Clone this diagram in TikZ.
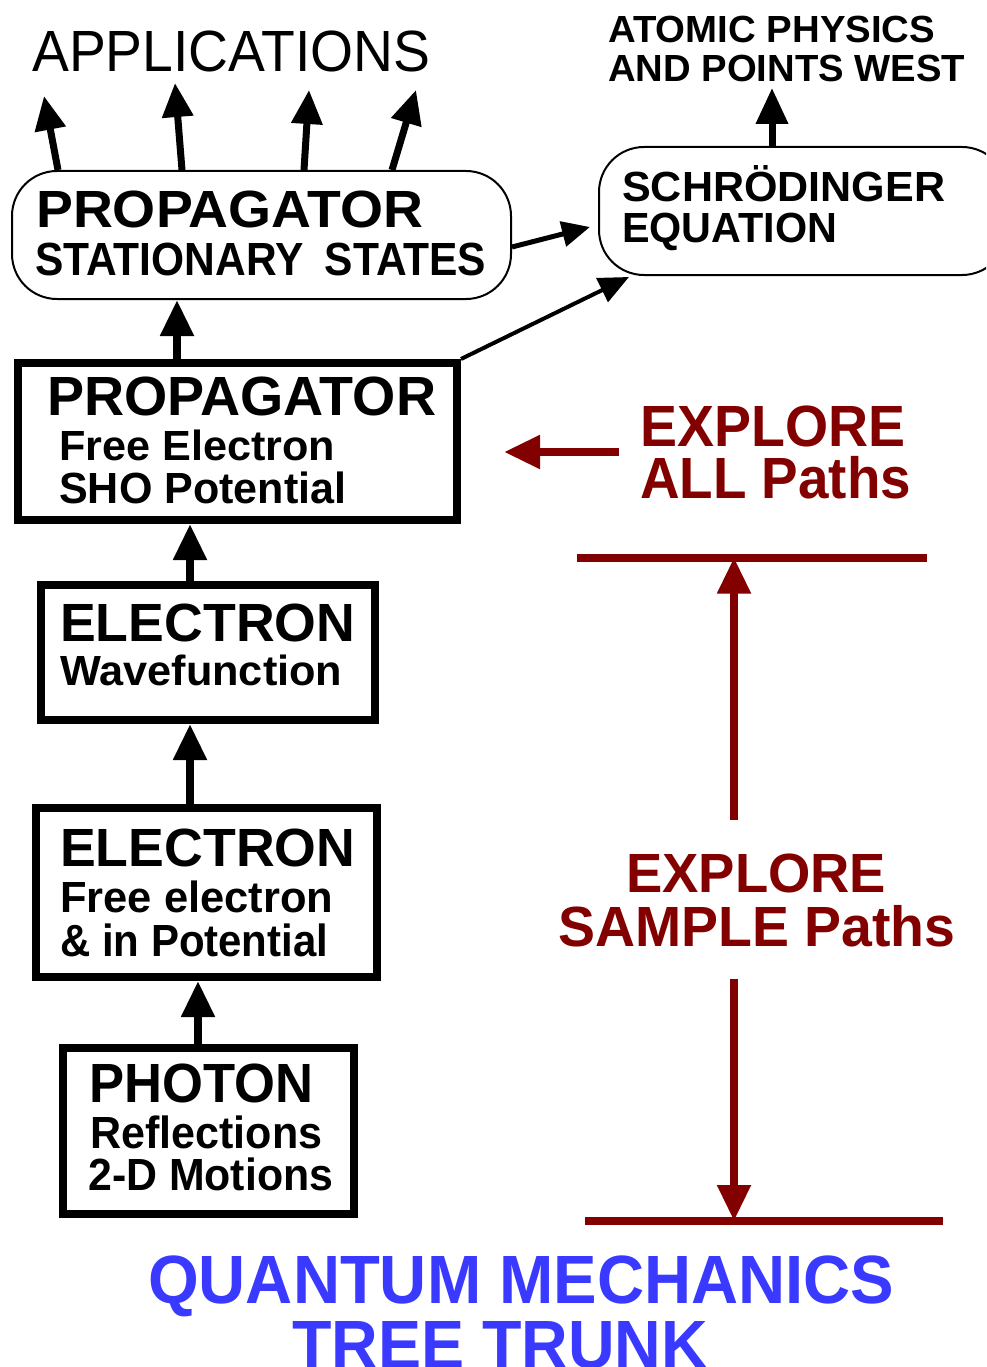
\documentclass[tikz,border=0pt]{standalone}
\usepackage{fontspec}
\setmainfont{Liberation Sans}
\usepackage{graphicx}
\usetikzlibrary{arrows.meta}
\definecolor{trunkred}{RGB}{130,0,0}
\definecolor{trunkblue}{RGB}{57,57,255}
% one line of text, stretched to a given width and cap height
\newcommand\fitline[3]{\resizebox{#1pt}{#2pt}{\raisebox{0pt}[\fontcharht\font`E][0pt]{#3}}}

\begin{document}
\begin{tikzpicture}[x=1pt,y=-1pt,
  txt/.style={inner sep=0pt, anchor=base west, font=\bfseries},
  roundbox/.style={draw, line width=2pt, rounded corners=45pt, inner sep=0pt},
  heavybox/.style={draw, line width=8pt, inner sep=0pt},
  uparrow/.style={line width=8pt, -{Triangle[length=36pt,width=32pt]}},
  apparrow/.style={line width=7pt, -{Triangle[length=34pt,width=30pt]}},
  sidearrow/.style={line width=5pt, -{Triangle[length=28pt,width=25pt]}},
  redarrow/.style={trunkred, line width=8pt, -{Triangle[length=36pt,width=32pt]}},
  redbar/.style={trunkred, line width=8pt}
]
\useasboundingbox (0,0) rectangle (986,1367);
\clip (0,0) rectangle (986,1367);

% boxes
\node[roundbox, minimum width=499pt, minimum height=128pt] (stat) at (261.5,235) {};
\node[roundbox, minimum width=408pt, minimum height=128pt] (schr) at (803,211) {};
\node[heavybox, minimum width=439pt, minimum height=157pt] (prop) at (237.5,441.5) {};
\node[heavybox, minimum width=334pt, minimum height=135pt] (wave) at (208,652.5) {};
\node[heavybox, minimum width=341pt, minimum height=169pt] (free) at (206.5,892.5) {};
\node[heavybox, minimum width=291pt, minimum height=166pt] (phot) at (208.5,1131) {};

% texts
\node[txt, font=\mdseries] (apps) at (32,72) {\fitline{398}{40}{APPLICATIONS}};
\node[txt] (statA) at (36,228) {\fitline{387}{36}{PROPAGATOR}};
\node[txt] (statB) at (35,275) {\fitline{451}{32}{STATIONARY\hspace{0.5em}STATES}};
\node[txt] (atomA) at (608,43) {\fitline{327}{26}{ATOMIC PHYSICS}};
\node[txt] (atomB) at (608,82) {\fitline{357}{26}{AND POINTS WEST}};
\node[txt] (schrA) at (622,202) {\fitline{323}{29}{SCHRÖDINGER}};
\node[txt] (schrB) at (622,243) {\fitline{215}{29}{EQUATION}};
\node[txt] (propA) at (47,415) {\fitline{389}{38}{PROPAGATOR}};
\node[txt] (propB) at (59,460) {\fitline{276}{29}{Free Electron}};
\node[txt] (propC) at (59,503) {\fitline{287}{30}{SHO Potential}};
\node[txt] (waveA) at (60,641) {\fitline{295}{37}{ELECTRON}};
\node[txt] (waveB) at (60,685) {\fitline{282}{29}{Wavefunction}};
\node[txt] (freeA) at (60,866) {\fitline{295}{37}{ELECTRON}};
\node[txt] (freeB) at (60,912) {\fitline{273}{30}{Free electron}};
\node[txt] (freeC) at (60,956) {\fitline{268}{31}{\& in Potential}};
\node[txt] (photA) at (89,1102) {\fitline{224}{38}{PHOTON}};
\node[txt] (photB) at (90,1148) {\fitline{232}{31}{Reflections}};
\node[txt] (photC) at (88,1190) {\fitline{245}{31}{2-D Motions}};
\node[txt, trunkred] (allA) at (640,446) {\fitline{265}{40}{EXPLORE}};
\node[txt, trunkred] (allB) at (640,498) {\fitline{271}{40}{ALL Paths}};
\node[txt, trunkred] (smpA) at (626,892) {\fitline{260}{38}{EXPLORE}};
\node[txt, trunkred] (smpB) at (558,946) {\fitline{397}{39}{SAMPLE Paths}};
\node[txt, trunkblue] (qmA) at (148,1303) {\fitline{746}{47}{QUANTUM MECHANICS}};
\node[txt, trunkblue] (qmB) at (292,1368) {\fitline{416}{47}{TREE TRUNK}};

% free ends of connectors
\coordinate (appT1) at (44,96);
\coordinate (appT2) at (175,83);
\coordinate (appT3) at (309,90);
\coordinate (appT4) at (416,90);
\coordinate (atomT) at (772,88);
\coordinate (allTail) at (619,452);
\coordinate (allTip) at (504,452);
\coordinate (barTL) at (577,557.5);
\coordinate (barTR) at (927,557.5);
\coordinate (barBL) at (585,1221);
\coordinate (barBR) at (943,1221);
\coordinate (upTail) at (734,820);
\coordinate (dnTail) at (734,979);

% black connectors
\draw[apparrow] ([xshift=47pt]stat.north west) -- (appT1);
\draw[apparrow] ([xshift=171pt]stat.north west) -- (appT2);
\draw[apparrow] ([xshift=293pt]stat.north west) -- (appT3);
\draw[apparrow] ([xshift=381pt]stat.north west) -- (appT4);
\draw[line width=7pt, -{Triangle[length=36pt,width=31pt]}] (schr.north -| atomT) -- (atomT);
\draw[uparrow] ([xshift=-60.5pt]prop.north) -- ([xshift=-84.5pt]stat.south);
\draw[uparrow] ([xshift=-18pt]wave.north) -- ([xshift=-47.5pt]prop.south);
\draw[uparrow] ([xshift=-16.5pt]free.north) -- ([xshift=-18pt]wave.south);
\draw[uparrow] ([xshift=-10.5pt]phot.north) -- ([xshift=-8.5pt]free.south);
\draw[sidearrow] ([yshift=-12pt]stat.east) -- ([xshift=-8pt,yshift=-16pt]schr.west);
\draw[line width=4pt, -{Triangle[length=30pt,width=26pt]}] (prop.north east) -- ([xshift=31pt,yshift=-1pt]schr.south west);

% red paths
\draw[redarrow] (allTail) -- (allTip);
\draw[redbar] (barTL) -- (barTR);
\draw[redbar] (barBL) -- (barBR);
\draw[redarrow] (upTail) -- (upTail |- barTL);
\draw[redarrow] (dnTail) -- (dnTail |- barBL);
\end{tikzpicture}
\end{document}
